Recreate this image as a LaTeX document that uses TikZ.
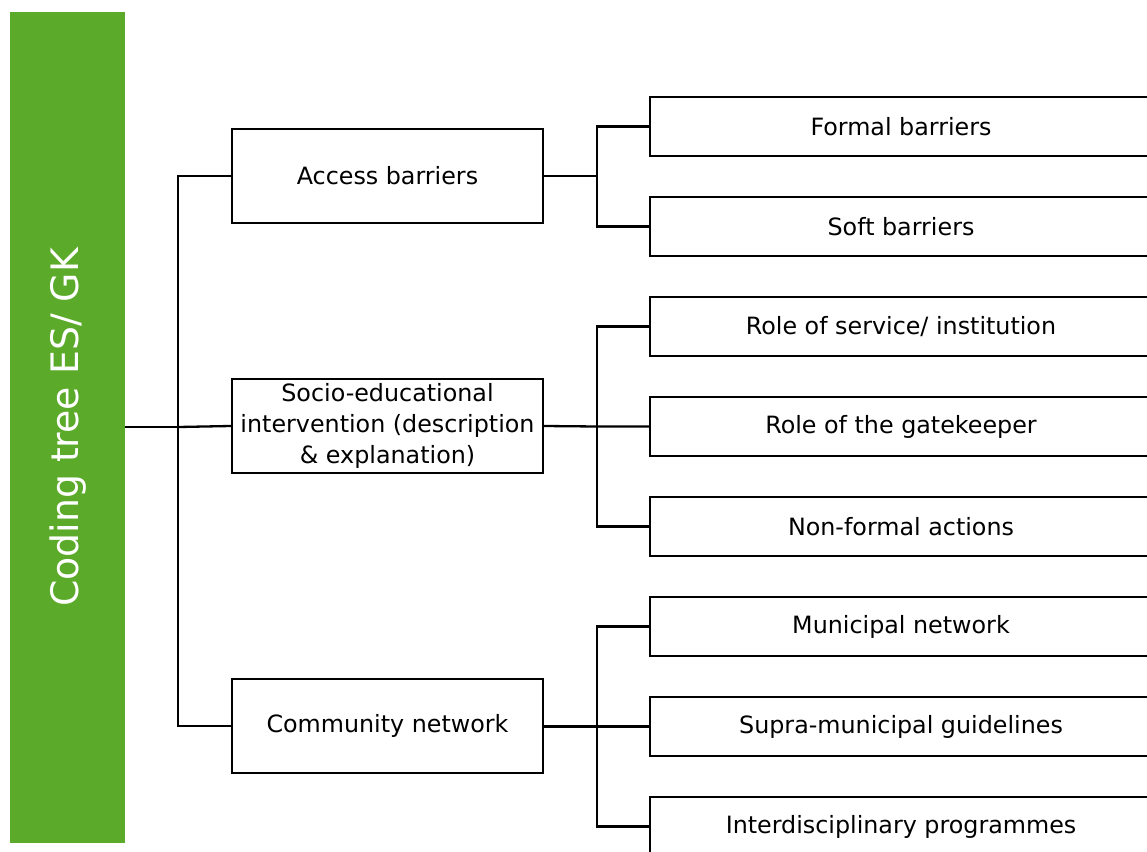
\documentclass[tikz,border=0pt]{standalone}
\usepackage{fontspec}
\setmainfont{DejaVu Sans}
\definecolor{barGreen}{HTML}{5BAA2A}
\begin{document}
\begin{tikzpicture}[x=1pt,y=-1pt,
  box/.style={draw=black, line width=2.3pt, fill=white, inner sep=0pt,
    font=\fontsize{23.8}{31}\selectfont, align=center},
  lvlone/.style={box, minimum width=311pt, minimum height=94pt},
  lvltwo/.style={box, minimum width=502pt, minimum height=59pt},
  link/.style={draw=black, line width=2.3pt}]
\useasboundingbox (0,0) rectangle (1147,851);
\clip (0,0) rectangle (1147,851);

% root bar
\node[fill=barGreen, inner sep=0pt, minimum width=115pt, minimum height=831pt]
  (bar) at (67.5,427.5) {};
\node[rotate=90, text=white, font=\fontsize{37.8}{40}\selectfont, inner sep=0pt]
  (root) at (68,427.5) {Coding tree ES/ GK};

% first level
\node[lvlone] (acc) at (387.5,176) {Access barriers};
\node[lvlone] (soc) at (387.5,426) {Socio-educational\\intervention (description\\\& explanation)};
\node[lvlone] (com) at (387.5,726) {Community network};

% second level
\node[lvltwo] (fb) at (901,126.5) {Formal barriers};
\node[lvltwo] (sb) at (901,226.5) {Soft barriers};
\node[lvltwo] (rs) at (901,326.5) {Role of service/ institution};
\node[lvltwo] (rg) at (901,426.5) {Role of the gatekeeper};
\node[lvltwo] (nf) at (901,526.5) {Non-formal actions};
\node[lvltwo] (mn) at (901,626.5) {Municipal network};
\node[lvltwo] (sm) at (901,726.5) {Supra-municipal guidelines};
\node[lvltwo] (ip) at (901,826.5) {Interdisciplinary programmes};

% junctions
\coordinate (j0) at (178,427);
\coordinate (j1) at (597,176);
\coordinate (j2) at (597,426.5);
\coordinate (j3) at (597,726.5);

% connectors
\draw[link] (bar.east |- j0) -- (j0);
\draw[link] (acc.west) -| (j0) |- (com.west);
\draw[link] (j0) -- (soc.west);

\draw[link] (acc.east) -- (j1);
\draw[link] (fb.west) -| (j1) |- (sb.west);

\draw[link] (soc.east) -- (j2) -- (rg.west);
\draw[link] (rs.west) -| (j2) |- (nf.west);

\draw[link] (com.east |- j3) -- (j3) -- (sm.west);
\draw[link] (mn.west) -| (j3) |- (ip.west);
\end{tikzpicture}
\end{document}
